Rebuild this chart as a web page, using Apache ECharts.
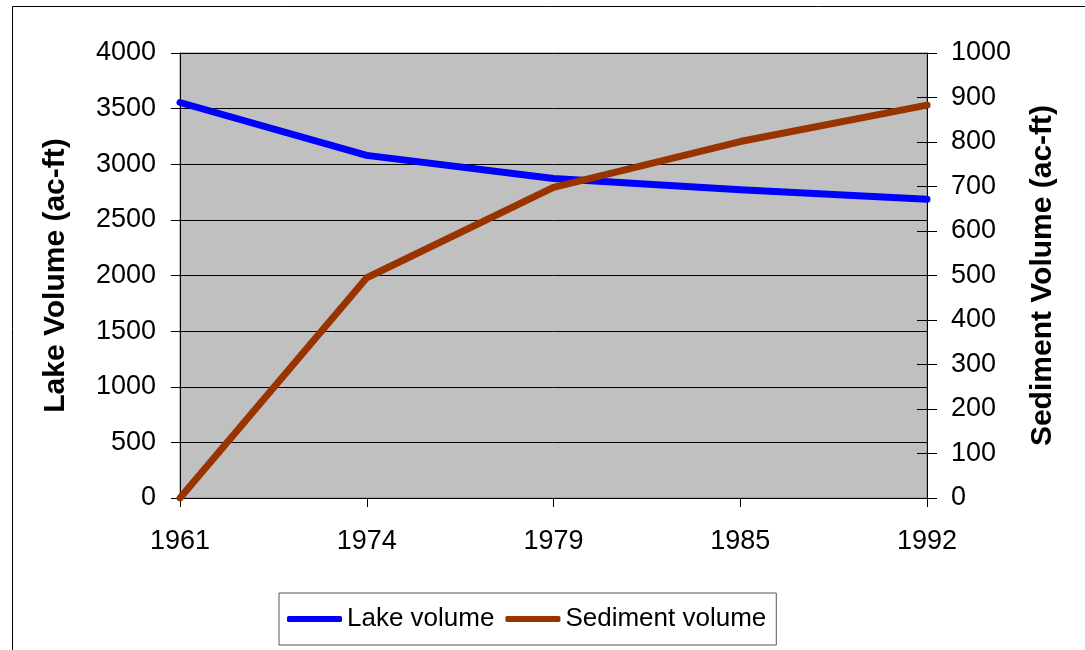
<!DOCTYPE html>
<html>
<head>
<meta charset="utf-8">
<script src="https://cdn.jsdelivr.net/npm/echarts@6.0.0/dist/echarts.min.js"></script>
<style>
  html, body { margin: 0; padding: 0; background: #fff; }
  #chart { width: 1085px; height: 650px; }
</style>
</head>
<body>
<div id="chart"></div>
<script>
  var years = ['1961', '1974', '1979', '1985', '1992'];
  var lakeVolume = [3555, 3080, 2872, 2770, 2685];
  var sedimentVolume = [0, 495, 698, 801, 883];

  var font = "'Liberation Sans', Arial, sans-serif";
  var plain = function (v) { return String(v); };
  var myChart = echarts.init(document.getElementById('chart'));
  myChart.setOption({
    animation: false,
    textStyle: { fontFamily: font },
    graphic: [{
      type: 'rect',
      shape: { x: 12.5, y: 6.5, width: 1200, height: 800 },
      style: { fill: 'none', stroke: '#000', lineWidth: 1 },
      silent: true
    }],
    grid: {
      left: 180, right: 158, top: 53, bottom: 152,
      show: true,
      backgroundColor: '#c0c0c0',
      borderColor: '#808080',
      borderWidth: 1
    },
    legend: {
      left: 279, top: 593,
      padding: [13, 10, 13, 8],
      itemGap: 11,
      itemWidth: 55,
      itemHeight: 6,
      icon: 'roundRect',
      borderColor: '#555',
      borderWidth: 1,
      textStyle: { fontSize: 26, color: '#000', fontFamily: font },
      data: ['Lake volume', 'Sediment volume']
    },
    xAxis: {
      type: 'category',
      data: years,
      boundaryGap: false,
      axisLine: { lineStyle: { color: '#000', width: 1 } },
      axisTick: { length: 9, lineStyle: { color: '#000' } },
      axisLabel: { fontSize: 27, color: '#000', margin: 30 },
      splitLine: { show: false }
    },
    yAxis: [{
      type: 'value',
      min: 0, max: 4000, interval: 500,
      name: 'Lake Volume (ac-ft)',
      nameLocation: 'middle',
      nameGap: 109,
      nameTextStyle: { fontSize: 30, fontWeight: 'bold', color: '#000' },
      axisLine: { show: true, lineStyle: { color: '#000' } },
      axisTick: { show: true, length: 9, lineStyle: { color: '#000' } },
      axisLabel: { fontSize: 27, color: '#000', margin: 24, formatter: plain },
      splitLine: { show: true, lineStyle: { color: '#000', width: 1 } }
    }, {
      type: 'value',
      position: 'right',
      min: 0, max: 1000, interval: 100,
      name: 'Sediment Volume (ac-ft)',
      nameLocation: 'middle',
      nameGap: 101,
      nameRotate: 90,
      nameTextStyle: { fontSize: 30, fontWeight: 'bold', color: '#000' },
      axisLine: { show: true, lineStyle: { color: '#000' } },
      axisTick: { show: true, length: 10, lineStyle: { color: '#000' } },
      axisLabel: { fontSize: 27, color: '#000', margin: 24, formatter: plain },
      splitLine: { show: false }
    }, {
      // inner half of the cross ticks on the right axis
      type: 'value',
      position: 'right',
      min: 0, max: 1000, interval: 100,
      axisLine: { show: false },
      axisTick: { show: true, inside: true, length: 10, lineStyle: { color: '#000' } },
      axisLabel: { show: false },
      splitLine: { show: false }
    }],
    series: [{
      name: 'Lake volume',
      type: 'line',
      data: lakeVolume,
      yAxisIndex: 0,
      symbol: 'none',
      color: '#0000ff',
      lineStyle: { width: 7, color: '#0000ff', cap: 'round', join: 'round' }
    }, {
      name: 'Sediment volume',
      type: 'line',
      data: sedimentVolume,
      yAxisIndex: 1,
      symbol: 'none',
      color: '#993300',
      lineStyle: { width: 7, color: '#993300', cap: 'round', join: 'round' }
    }]
  });
</script>
</body>
</html>
